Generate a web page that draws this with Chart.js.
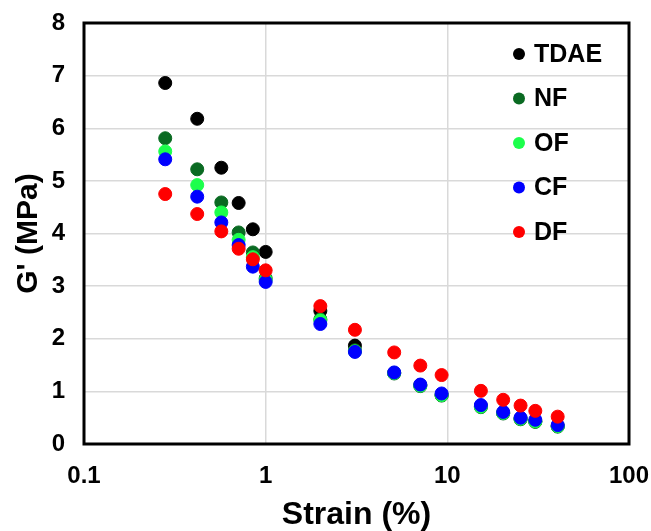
<!DOCTYPE html>
<html>
<head>
<meta charset="utf-8">
<script src="https://cdn.jsdelivr.net/npm/chart.js@4.4.1/dist/chart.umd.min.js"></script>
<style>
  html, body { margin: 0; padding: 0; background: #fff; }
  #wrap { width: 651px; height: 531px; }
</style>
</head>
<body>
<div id="wrap"><canvas id="diagramm" width="651" height="531"></canvas></div>
<script>
// Strain values (%) shared by all series
const strain = [0.28, 0.42, 0.57, 0.71, 0.85, 1.0, 2.0, 3.1, 5.1, 7.1, 9.3, 15.3, 20.3, 25.3, 30.5, 40.5];

// G' values (MPa)
const tdae = [6.86, 6.18, 5.25, 4.58, 4.08, 3.65, 2.53, 1.87, 1.35, 1.12, 0.93, 0.72, 0.59, 0.48, 0.43, 0.34];
const nf   = [5.81, 5.22, 4.59, 4.02, 3.64, 3.15, 2.37, 1.78, 1.34, 1.10, 0.92, 0.70, 0.58, 0.47, 0.42, 0.33];
const of   = [5.56, 4.92, 4.40, 3.88, 3.55, 3.12, 2.35, 1.76, 1.35, 1.11, 0.93, 0.71, 0.59, 0.48, 0.43, 0.34];
const cf   = [5.41, 4.70, 4.21, 3.78, 3.37, 3.08, 2.28, 1.75, 1.36, 1.13, 0.96, 0.74, 0.61, 0.50, 0.46, 0.36];
const df   = [4.75, 4.37, 4.04, 3.71, 3.51, 3.30, 2.62, 2.17, 1.74, 1.49, 1.31, 1.01, 0.84, 0.73, 0.63, 0.52];

const seriesNames = ['TDAE', 'NF', 'OF', 'CF', 'DF'];
const seriesValues = [tdae, nf, of, cf, df];
const seriesColors = ['#000000', '#0a6a22', '#1cff4c', '#0000ff', '#ff0000'];

// Tick labels
const xTicks = [0.1, 1, 10, 100];
const yTicks = [0, 1, 2, 3, 4, 5, 6, 7, 8];

const font = 'Liberation Sans, Arial, sans-serif';

// Later series are drawn on top (DF on top, TDAE at the bottom)
const datasets = seriesNames.map((name, i) => ({
    label: name,
    data: strain.map((s, j) => ({ x: s, y: seriesValues[i][j] })),
    backgroundColor: seriesColors[i],
    borderColor: seriesColors[i],
    borderWidth: 1,
    pointRadius: 6.5,
    pointHoverRadius: 6.5,
    order: seriesNames.length - i
}));

// Frame around the plot area and the legend inside it
const raamPlugin = {
    id: 'raam',
    afterDraw(chart) {
        const { ctx, chartArea: a } = chart;
        ctx.save();
        ctx.strokeStyle = '#000';
        ctx.lineWidth = 3;
        ctx.strokeRect(a.left, a.top, a.right - a.left, a.bottom - a.top);

        ctx.font = 'bold 25px ' + font;
        ctx.textBaseline = 'middle';
        chart.data.datasets.forEach((ds, i) => {
            const y = 54 + i * 44.5;
            ctx.fillStyle = ds.backgroundColor;
            ctx.beginPath();
            ctx.arc(519, y, 6, 0, Math.PI * 2);
            ctx.fill();
            ctx.fillStyle = '#000';
            ctx.fillText(ds.label, 534, y + 1);
        });
        ctx.restore();
    }
};

new Chart(document.getElementById('diagramm').getContext('2d'), {
    type: 'scatter',
    data: { datasets: datasets },
    options: {
        responsive: false,
        animation: false,
        layout: { padding: { top: 23, right: 22, left: 8, bottom: 0 } },
        plugins: {
            legend: { display: false },
            tooltip: { enabled: false }
        },
        scales: {
            x: {
                type: 'logarithmic',
                min: 0.1,
                max: 100,
                afterBuildTicks: (axis) => { axis.ticks = xTicks.map(v => ({ value: v })); },
                // fixed size, label overflow is left to the layout padding
                afterFit: (axis) => {
                    axis.height = 87;
                    axis.paddingLeft = 0;
                    axis.paddingRight = 0;
                },
                ticks: {
                    color: '#000',
                    font: { family: font, size: 24, weight: 'bold' },
                    padding: 18,
                    maxRotation: 0,
                    autoSkip: false,
                    callback: (v) => String(v)
                },
                grid: { color: '#d9d9d9', lineWidth: 1.5, drawTicks: false },
                border: { display: false },
                title: {
                    display: true,
                    text: 'Strain (%)',
                    color: '#000',
                    font: { family: font, size: 32, weight: 'bold', lineHeight: 1 },
                    padding: { top: 2, bottom: 0 }
                }
            },
            y: {
                min: 0,
                max: 8,
                afterBuildTicks: (axis) => { axis.ticks = yTicks.map(v => ({ value: v })); },
                afterFit: (axis) => {
                    axis.width = 76;
                    axis.paddingTop = 0;
                    axis.paddingBottom = 0;
                },
                ticks: {
                    color: '#000',
                    font: { family: font, size: 24, weight: 'bold' },
                    padding: 19
                },
                grid: { color: '#d9d9d9', lineWidth: 1.5, drawTicks: false },
                border: { display: false },
                title: {
                    display: true,
                    text: "G' (MPa)",
                    color: '#000',
                    font: { family: font, size: 30, weight: 'bold' },
                    padding: { top: 3, bottom: 2 }
                }
            }
        }
    },
    plugins: [raamPlugin]
});
</script>
</body>
</html>
